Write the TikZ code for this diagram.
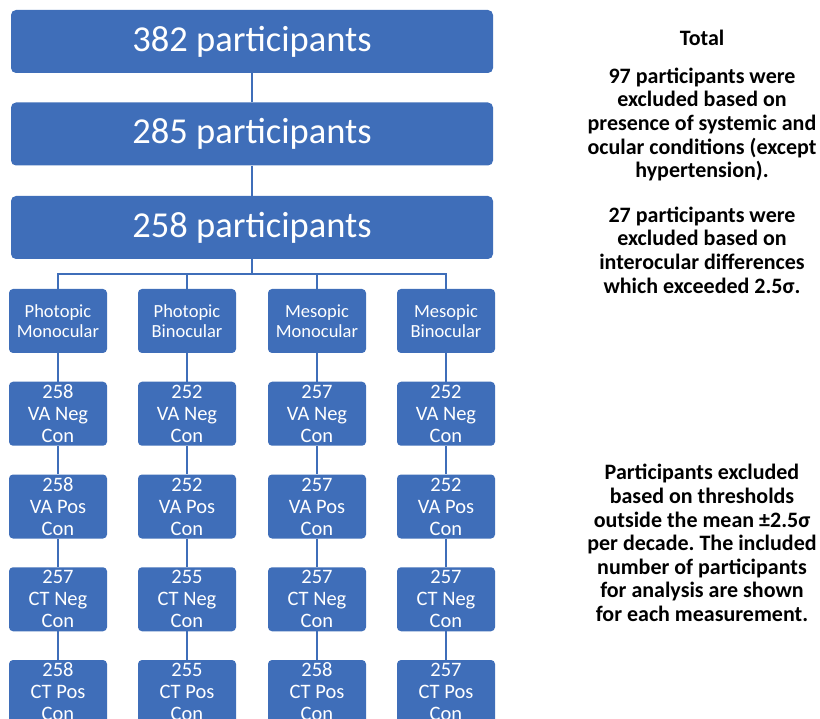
\documentclass[tikz,border=0pt]{standalone}
\usepackage{fontspec}
\setmainfont{Carlito}
\frenchspacing
\usetikzlibrary{calc}
\definecolor{boxblue}{RGB}{63,110,185}

\begin{document}
\begin{tikzpicture}[x=1pt,y=-1pt,
  bigbox/.style={fill=boxblue,rounded corners=5pt,minimum width=482pt,minimum height=63pt,inner sep=0pt,text=white,font=\fontsize{36.5}{40}\selectfont},
  smallbox/.style={fill=boxblue,rounded corners=4pt,minimum width=98pt,minimum height=64pt,inner sep=0pt,text=white,align=center,font=\fontsize{20.5}{22}\selectfont},
  headbox/.style={smallbox,font=\fontsize{18.5}{20}\selectfont},
  link/.style={draw=boxblue,line width=2pt},
  note/.style={align=center,inner sep=0pt,font=\bfseries\fontsize{22}{23.6}\selectfont}]
\useasboundingbox (0,0) rectangle (820,719);
% main stem
\node[bigbox] (T1) at (252,41.5) {382 participants};
\node[bigbox] (T2) at (252,134) {285 participants};
\node[bigbox] (T3) at (252,227.5) {258 participants};
\draw[link] (T1) -- (T2);
\draw[link] (T2) -- (T3);
\coordinate (bus) at (252,274);
% conditions
\node[headbox] (PM) at (58,321) {Photopic\\Monocular};
\node[headbox] (PB) at (187,321) {Photopic\\Binocular};
\node[headbox] (MM) at (317,321) {Mesopic\\Monocular};
\node[headbox] (MB) at (446,321) {Mesopic\\Binocular};
\draw[link] (T3.south) -- (bus);
\draw[link] (bus) -| (PM);
\draw[link] (bus) -| (PB);
\draw[link] (bus) -| (MM);
\draw[link] (bus) -| (MB);
% photopic monocular
\node[smallbox] (PM1) at ($(PM)+(0,92.75)$) {258\\VA Neg\\Con};
\node[smallbox] (PM2) at ($(PM1)+(0,92.75)$) {258\\VA Pos\\Con};
\node[smallbox] (PM3) at ($(PM2)+(0,92.75)$) {257\\CT Neg\\Con};
\node[smallbox] (PM4) at ($(PM3)+(0,92.75)$) {258\\CT Pos\\Con};
% photopic binocular
\node[smallbox] (PB1) at ($(PB)+(0,92.75)$) {252\\VA Neg\\Con};
\node[smallbox] (PB2) at ($(PB1)+(0,92.75)$) {252\\VA Pos\\Con};
\node[smallbox] (PB3) at ($(PB2)+(0,92.75)$) {255\\CT Neg\\Con};
\node[smallbox] (PB4) at ($(PB3)+(0,92.75)$) {255\\CT Pos\\Con};
% mesopic monocular
\node[smallbox] (MM1) at ($(MM)+(0,92.75)$) {257\\VA Neg\\Con};
\node[smallbox] (MM2) at ($(MM1)+(0,92.75)$) {257\\VA Pos\\Con};
\node[smallbox] (MM3) at ($(MM2)+(0,92.75)$) {257\\CT Neg\\Con};
\node[smallbox] (MM4) at ($(MM3)+(0,92.75)$) {258\\CT Pos\\Con};
% mesopic binocular
\node[smallbox] (MB1) at ($(MB)+(0,92.75)$) {252\\VA Neg\\Con};
\node[smallbox] (MB2) at ($(MB1)+(0,92.75)$) {252\\VA Pos\\Con};
\node[smallbox] (MB3) at ($(MB2)+(0,92.75)$) {257\\CT Neg\\Con};
\node[smallbox] (MB4) at ($(MB3)+(0,92.75)$) {257\\CT Pos\\Con};
\draw[link] (PM) -- (PM1) -- (PM2) -- (PM3) -- (PM4);
\draw[link] (PB) -- (PB1) -- (PB2) -- (PB3) -- (PB4);
\draw[link] (MM) -- (MM1) -- (MM2) -- (MM3) -- (MM4);
\draw[link] (MB) -- (MB1) -- (MB2) -- (MB3) -- (MB4);
% notes
\node[note] (N0) at (702,38) {Total};
\node[note] (N1) at (702,124.5) {97 participants were\\excluded based on\\presence of systemic and\\ocular conditions (except\\hypertension).};
\node[note] (N2) at (702,250) {27 participants were\\excluded based on\\interocular differences\\which exceeded 2.5σ.};
\node[note] (N3) at (702,543) {Participants excluded\\based on thresholds\\outside the mean ±2.5σ\\per decade. The included\\number of participants\\for analysis are shown\\for each measurement.};
\end{tikzpicture}
\end{document}
